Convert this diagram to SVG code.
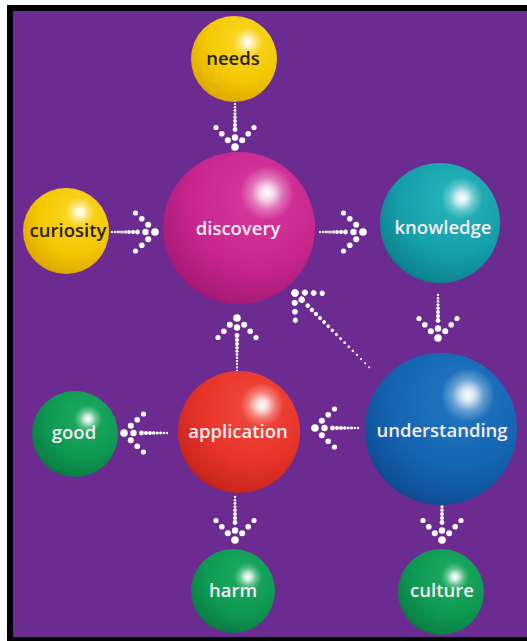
<svg xmlns="http://www.w3.org/2000/svg" xmlns:xlink="http://www.w3.org/1999/xlink" width="527" height="641" viewBox="0 0 527 641">
  <style>
    .lbl { font-family: "Open Sans", "Noto Sans", "DejaVu Sans", sans-serif; font-weight: 600; font-size: 18.5px; text-anchor: middle; }
    .light { fill: #F7EEF3; }
    .dark { fill: #2A2110; }
    .dot { fill: #FFFFFF; }
  </style>
  <defs>
    <!-- sphere body shading, lit from the upper right -->
    <radialGradient id="gYellow" cx="0.62" cy="0.32" r="0.8" fx="0.62" fy="0.3">
      <stop offset="0" stop-color="#FBD92A"/>
      <stop offset="0.55" stop-color="#F4C700"/>
      <stop offset="0.85" stop-color="#E2AC00"/>
      <stop offset="1" stop-color="#C58C00"/>
    </radialGradient>
    <radialGradient id="gMagenta" cx="0.62" cy="0.32" r="0.8" fx="0.62" fy="0.3">
      <stop offset="0" stop-color="#D83A9E"/>
      <stop offset="0.55" stop-color="#C8268D"/>
      <stop offset="0.85" stop-color="#AA1B79"/>
      <stop offset="1" stop-color="#85105E"/>
    </radialGradient>
    <radialGradient id="gTeal" cx="0.62" cy="0.32" r="0.8" fx="0.62" fy="0.3">
      <stop offset="0" stop-color="#2AB4BD"/>
      <stop offset="0.55" stop-color="#15A1AB"/>
      <stop offset="0.85" stop-color="#0D8692"/>
      <stop offset="1" stop-color="#08626F"/>
    </radialGradient>
    <radialGradient id="gBlue" cx="0.62" cy="0.32" r="0.8" fx="0.62" fy="0.3">
      <stop offset="0" stop-color="#2378C2"/>
      <stop offset="0.55" stop-color="#1465B2"/>
      <stop offset="0.85" stop-color="#0F5099"/>
      <stop offset="1" stop-color="#0A3A78"/>
    </radialGradient>
    <radialGradient id="gRed" cx="0.62" cy="0.32" r="0.8" fx="0.62" fy="0.3">
      <stop offset="0" stop-color="#F1493C"/>
      <stop offset="0.55" stop-color="#E8342A"/>
      <stop offset="0.85" stop-color="#CA261F"/>
      <stop offset="1" stop-color="#9D1812"/>
    </radialGradient>
    <radialGradient id="gGreen" cx="0.62" cy="0.32" r="0.8" fx="0.62" fy="0.3">
      <stop offset="0" stop-color="#1CAB62"/>
      <stop offset="0.55" stop-color="#0F9A54"/>
      <stop offset="0.85" stop-color="#0A8045"/>
      <stop offset="1" stop-color="#065F33"/>
    </radialGradient>
    <!-- soft specular spot -->
    <radialGradient id="gShine" cx="0.5" cy="0.5" r="0.5">
      <stop offset="0" stop-color="#FFFFFF" stop-opacity="1"/>
      <stop offset="0.25" stop-color="#FFFFFF" stop-opacity="0.8"/>
      <stop offset="0.6" stop-color="#FFFFFF" stop-opacity="0.3"/>
      <stop offset="1" stop-color="#FFFFFF" stop-opacity="0"/>
    </radialGradient>

    <!-- dotted chevron head, tip at the origin, pointing along +x -->
    <g id="head" class="dot">
      <circle cx="0" cy="0" r="3.8"/>
      <circle cx="-9.5" cy="0" r="3.2"/>
      <circle cx="-6.8" cy="-7.2" r="3.0"/>
      <circle cx="-6.8" cy="7.2" r="3.0"/>
      <circle cx="-13.2" cy="-13.2" r="2.8"/>
      <circle cx="-13.2" cy="13.2" r="2.8"/>
      <circle cx="-19.5" cy="-19" r="2.6"/>
      <circle cx="-19.5" cy="19" r="2.6"/>
    </g>
    <!-- standard dotted shaft behind the head -->
    <g id="shaft" class="dot">
      <circle cx="-17.5" cy="0" r="2.4"/>
      <circle cx="-22" cy="0" r="2.1"/>
      <circle cx="-26" cy="0" r="1.9"/>
      <circle cx="-29.7" cy="0" r="1.75"/>
      <circle cx="-33.2" cy="0" r="1.6"/>
      <circle cx="-36.6" cy="0" r="1.45"/>
      <circle cx="-39.8" cy="0" r="1.3"/>
      <circle cx="-43" cy="0" r="1.2"/>
    </g>
    <g id="arrow">
      <use xlink:href="#head"/>
      <use xlink:href="#shaft"/>
    </g>
    <!-- longer shaft for the upward arrow -->
    <g id="arrowLong">
      <use xlink:href="#head"/>
      <use xlink:href="#shaft"/>
      <circle class="dot" cx="-46.2" cy="0" r="1.15"/>
      <circle class="dot" cx="-49.4" cy="0" r="1.1"/>
      <circle class="dot" cx="-52.5" cy="0" r="1.05"/>
    </g>
  </defs>

  <!-- frame -->
  <rect x="0" y="0" width="527" height="641" fill="#FFFFFF"/>
  <rect x="7" y="5" width="520" height="636" fill="#000000"/>
  <rect x="13" y="11" width="514" height="626" fill="#6B2B91"/>

  <!-- connectors -->
  <g id="connectors">
    <use xlink:href="#arrow" transform="translate(235,147) rotate(90)"/>
    <use xlink:href="#arrow" transform="translate(155,232)"/>
    <use xlink:href="#arrow" transform="translate(363,232)"/>
    <use xlink:href="#arrow" transform="translate(438,338) rotate(90)"/>
    <use xlink:href="#arrowLong" transform="translate(237,318) rotate(-90)"/>
    <use xlink:href="#arrow" transform="translate(315,428) rotate(180)"/>
    <use xlink:href="#arrow" transform="translate(124,433) rotate(180)"/>
    <use xlink:href="#arrow" transform="translate(235,540) rotate(90)"/>
    <use xlink:href="#arrow" transform="translate(442,540) rotate(90)"/>
    <!-- diagonal: understanding back to discovery -->
    <g transform="translate(295,293) rotate(225)" class="dot">
      <use xlink:href="#head"/>
      <circle cx="-18" cy="0" r="2.3"/>
      <circle cx="-23.8" cy="0" r="2.2"/>
      <circle cx="-29.6" cy="0" r="2.1"/>
      <circle cx="-35.4" cy="0" r="2.0"/>
      <circle cx="-41.2" cy="0" r="1.9"/>
      <circle cx="-47" cy="0" r="1.8"/>
      <circle cx="-52.8" cy="0" r="1.7"/>
      <circle cx="-58.6" cy="0" r="1.6"/>
      <circle cx="-64.4" cy="0" r="1.5"/>
      <circle cx="-70.2" cy="0" r="1.4"/>
      <circle cx="-76" cy="0" r="1.3"/>
      <circle cx="-81.8" cy="0" r="1.25"/>
      <circle cx="-87.6" cy="0" r="1.2"/>
      <circle cx="-93.4" cy="0" r="1.1"/>
      <circle cx="-99.2" cy="0" r="1.05"/>
      <circle cx="-105" cy="0" r="1.0"/>
    </g>
  </g>

  <!-- nodes -->
  <g id="needs">
    <circle cx="234" cy="59" r="43" fill="url(#gYellow)"/>
    <circle cx="248" cy="42" r="15" fill="url(#gShine)"/>
    <text class="lbl dark" x="233" y="65">needs</text>
  </g>
  <g id="curiosity">
    <circle cx="66" cy="231" r="43" fill="url(#gYellow)"/>
    <circle cx="80" cy="212" r="15" fill="url(#gShine)"/>
    <text class="lbl dark" x="68" y="237">curiosity</text>
  </g>
  <g id="discovery">
    <circle cx="239" cy="228" r="76" fill="url(#gMagenta)"/>
    <circle cx="267" cy="193" r="27" fill="url(#gShine)"/>
    <text class="lbl light" x="238" y="235">discovery</text>
  </g>
  <g id="knowledge">
    <circle cx="440" cy="223" r="60" fill="url(#gTeal)"/>
    <circle cx="462" cy="198" r="21" fill="url(#gShine)"/>
    <text class="lbl light" x="443" y="234">knowledge</text>
  </g>
  <g id="understanding">
    <circle cx="441" cy="429" r="76" fill="url(#gBlue)"/>
    <circle cx="468" cy="395" r="27" fill="url(#gShine)"/>
    <text class="lbl light" x="442" y="437">understanding</text>
  </g>
  <g id="application">
    <circle cx="239" cy="432" r="61" fill="url(#gRed)"/>
    <circle cx="262" cy="405" r="22" fill="url(#gShine)"/>
    <text class="lbl light" x="238" y="438">application</text>
  </g>
  <g id="good">
    <circle cx="75" cy="434" r="43" fill="url(#gGreen)"/>
    <circle cx="88" cy="419" r="14" fill="url(#gShine)"/>
    <text class="lbl light" x="74" y="439">good</text>
  </g>
  <g id="harm">
    <circle cx="233" cy="591" r="42" fill="url(#gGreen)"/>
    <circle cx="248" cy="577" r="14" fill="url(#gShine)"/>
    <text class="lbl light" x="233" y="597">harm</text>
  </g>
  <g id="culture">
    <circle cx="441" cy="592" r="43" fill="url(#gGreen)"/>
    <circle cx="455" cy="577" r="14" fill="url(#gShine)"/>
    <text class="lbl light" x="442" y="597">culture</text>
  </g>
</svg>
